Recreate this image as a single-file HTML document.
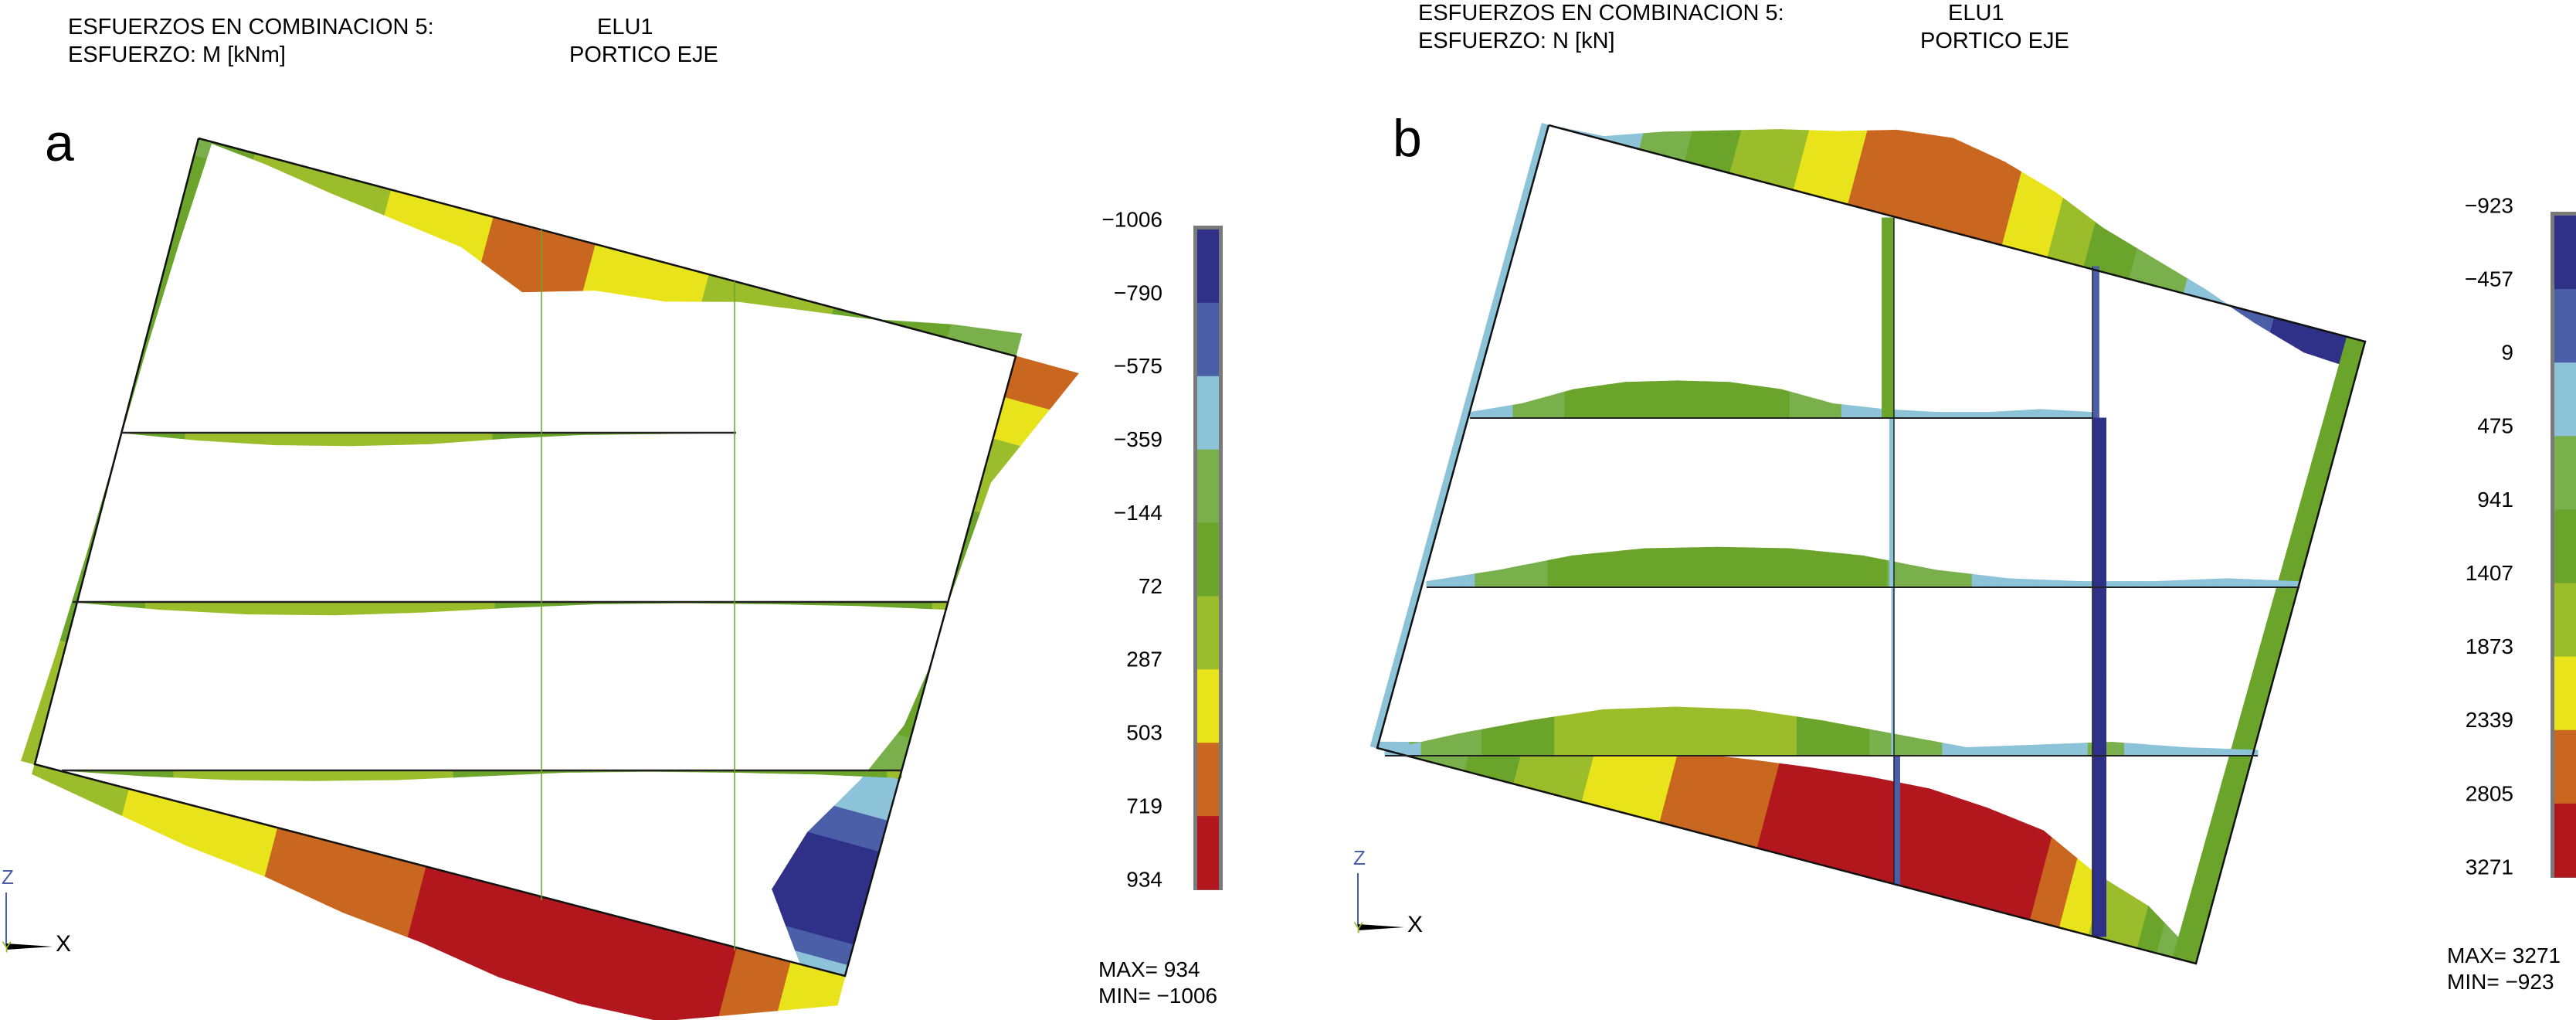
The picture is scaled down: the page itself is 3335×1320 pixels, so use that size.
<!DOCTYPE html>
<html><head><meta charset="utf-8"><style>
html,body{margin:0;padding:0;background:#fff;}
svg{display:block;font-family:"Liberation Sans",sans-serif;}
</style></head><body>
<svg id="fig" width="3335" height="1320" viewBox="0 0 3335 1320">
<g id="pa">
 <text x="88" y="44" font-size="29">ESFUERZOS EN COMBINACION 5:</text>
 <text x="773" y="44" font-size="29">ELU1</text>
 <text x="88" y="80" font-size="29">ESFUERZO: M [kNm]</text>
 <text x="737" y="80" font-size="29">PORTICO EJE</text>
 <text x="58" y="208" font-size="68">a</text>
 <text x="1422" y="1264" font-size="28">MAX= 934</text>
 <text x="1422" y="1298" font-size="28">MIN= −1006</text>
</g>
<g id="pb">
 <text x="1836" y="26" font-size="29">ESFUERZOS EN COMBINACION 5:</text>
 <text x="2522" y="26" font-size="29">ELU1</text>
 <text x="1836" y="62" font-size="29">ESFUERZO: N [kN]</text>
 <text x="2486" y="62" font-size="29">PORTICO EJE</text>
 <text x="1803" y="202" font-size="68">b</text>
 <text x="3168" y="1246" font-size="28">MAX= 3271</text>
 <text x="3168" y="1280" font-size="28">MIN= −923</text>
</g>
</svg>
<script>
const colors=['#2e3187','#4b5fa9','#8cc3d9','#79b04b','#6aa42b','#9cbd2b','#e9e31b','#c9661f','#b3171e'];
const ticksA=['−1006','−790','−575','−359','−144','72','287','503','719','934'];
const ticksB=['−923','−457','9','475','941','1407','1873','2339','2805','3271'];
const rangeA=[-1006,934];
const rangeB=[-923,3271];
// panel a moment values along members
const aTopBeam=[0,80,200,300,400,700,480,400,200,100,0,-150,-250];
const aBottomBeam=[100,250,400,500,650,740,880,934,900,600,300];
const aRightCol=[700,400,100,50,0,0,-100,-400,-800,-1006,-500];
const aLeftCol=[-150,-80,-30,0,30,80,150];
const aFloor1=[0,80,130,140,120,60,20,10,0];
const aFloor2=[0,80,130,140,110,60,20,10,20,40,80];
const aFloor3=[0,60,100,110,100,60,20,10,20,40,80];
// panel b axial values
const bTopBeam=[0,100,700,1200,1700,2100,2600,2800,2500,2000,1300,800,300,-300,-800,-900];
const bBottomBeam=[200,700,1200,1700,2100,2400,2700,2950,3150,3271,3150,2900,2000,1400,200];
const bLeftCol=[300,300,300,300];
const bRightCol=[1100,1200,1300,1400];
const bFloor1=[200,500,1000,1250,1300,1250,1000,500,300,200,200,300,200];
const bFloor2=[200,600,1100,1350,1400,1350,1100,600,300,200,200,300,200];
const bFloor3=[200,800,1300,1700,1800,1700,1300,800,300,400,500,300,200];
const bCol1=[1100,1100];const bCol1b=[400,400];const bCol1c=[300,300];const bCol1d=[-300,-300];
const bCol2=[-300,-300];const bCol2b=[-923,-923];

const NS='http://www.w3.org/2000/svg';
const svg=document.getElementById('fig');
function col(v,r){let i=Math.floor((v-r[0])/(r[1]-r[0])*9);return colors[Math.max(0,Math.min(8,i))];}
function member(g,p0,p1,vals,scale,sign,r,name){
 const dx=p1[0]-p0[0],dy=p1[1]-p0[1],L=Math.hypot(dx,dy);const nx=-dy/L*sign,ny=dx/L*sign;
 const grp=document.createElementNS(NS,'g');
 
 
 const n=vals.length-1,sub=6;
 for(let i=0;i<n;i++)for(let k=0;k<sub;k++){
  const ta=(i+k/sub)/n,tb=(i+(k+1)/sub)/n;
  const va=vals[i]+(vals[i+1]-vals[i])*k/sub,vb=vals[i]+(vals[i+1]-vals[i])*(k+1)/sub;
  const ax=p0[0]+dx*ta,ay=p0[1]+dy*ta,bx=p0[0]+dx*tb,by=p0[1]+dy*tb;
  const pts=[[ax,ay],[bx,by],[bx+nx*vb*scale,by+ny*vb*scale],[ax+nx*va*scale,ay+ny*va*scale]];
  const pg=document.createElementNS(NS,'polygon');
  pg.setAttribute('points',pts.map(p=>p.join(',')).join(' '));
  pg.setAttribute('fill',col((va+vb)/2,r));pg.setAttribute('stroke',col((va+vb)/2,r));pg.setAttribute('stroke-width','1');
  
  
  grp.appendChild(pg);
 }
 g.appendChild(grp);
}
function line(g,pts,w,c,name){const l=document.createElementNS(NS,'polyline');l.setAttribute('points',pts.map(p=>p.join(',')).join(' '));l.setAttribute('fill','none');l.setAttribute('stroke',c);l.setAttribute('stroke-width',w);
 
 
 g.appendChild(l);}
function txt(g,x,y,s,size,anchor,name,fill){const t=document.createElementNS(NS,'text');t.setAttribute('x',x);t.setAttribute('y',y);t.setAttribute('font-size',size);t.setAttribute('text-anchor',anchor);t.setAttribute('dominant-baseline','middle');if(fill)t.setAttribute('fill',fill);t.textContent=s;
 
 
 g.appendChild(t);}
function colorbar(g,x,y,w,h,ticks,lx,name){
 const grp=document.createElementNS(NS,'g');
 
 
 const bg=document.createElementNS(NS,'rect');bg.setAttribute('x',x);bg.setAttribute('y',y);bg.setAttribute('width',w);bg.setAttribute('height',h);bg.setAttribute('fill','#7a7a7a');
 
 
 grp.appendChild(bg);
 const st=(h-6)/colors.length;
 colors.forEach((c,i)=>{const r=document.createElementNS(NS,'rect');r.setAttribute('x',x+5);r.setAttribute('y',y+5+i*st);r.setAttribute('width',w-10);r.setAttribute('height',st+0.5);r.setAttribute('fill',c);
  
  
  grp.appendChild(r);});
 ticks.forEach((t,i)=>txt(grp,lx,y-6+i*st,t,28,'end','colorbar-tick-label'));
 g.appendChild(grp);
}
function triad(g,x,y){
 line(g,[[x,y-70],[x,y]],2,'#4a5fa8','z-axis');
 txt(g,x-6,y-88,'Z',26,'start','z-axis-label','#4a5fa8');
 const p=document.createElementNS(NS,'polygon');p.setAttribute('points',`${x},${y-4} ${x+60},${y} ${x},${y+4}`);p.setAttribute('fill','#000');
 
 
 g.appendChild(p);
 txt(g,x+64,y-2,'X',30,'start','x-axis-label');
 txt(g,x-6,y+2,'Y',20,'start','y-axis-label','#9cbd2b');
}
// Panel A
const ga=document.getElementById('pa');
const A={TL:[257,179],TR:[1315,461],BR:[1094,1263],BL:[45,989]};
member(ga,A.TL,A.TR,aTopBeam,0.12,1,rangeA,'a-top-beam-diagram');
member(ga,A.BL,A.BR,aBottomBeam,0.13,1,rangeA,'a-bottom-beam-diagram');
member(ga,A.TR,A.BR,aRightCol,0.12,-1,rangeA,'a-right-column-diagram');
member(ga,A.TL,A.BL,aLeftCol,0.12,1,rangeA,'a-left-column-diagram');
member(ga,[157,560],[953,560],aFloor1,0.12,1,rangeA,'a-floor1-diagram');
member(ga,[94,779],[1226,779],aFloor2,0.12,1,rangeA,'a-floor2-diagram');
member(ga,[80,997],[1167,997],aFloor3,0.12,1,rangeA,'a-floor3-diagram');
line(ga,[A.TL,A.TR,A.BR,A.BL,A.TL],2.5,'#111','a-frame-outline');
line(ga,[[157,560],[953,560]],2.5,'#222','a-floor1');
line(ga,[[94,779],[1226,779]],2.5,'#222','a-floor2');
line(ga,[[80,997],[1167,997]],2.5,'#222','a-floor3');
line(ga,[[701,297],[701,1165]],1.5,'#6aa42b','a-column-1');
line(ga,[[951,364],[951,1230]],1.5,'#6aa42b','a-column-2');
colorbar(ga,1545,292,38,860,ticksA,1505,'a-colorbar');
triad(ga,8,1225);
// Panel B
const gb=document.getElementById('pb');
const B={TL:[2005,162],TR:[3062,442],BR:[2843,1247],BL:[1783,968]};
member(gb,B.TL,B.TR,bTopBeam,0.042,-1,rangeB,'b-top-beam-diagram');
member(gb,B.BL,B.BR,bBottomBeam,0.04,-1,rangeB,'b-bottom-beam-diagram');
member(gb,B.TL,B.BL,bLeftCol,0.03,1,rangeB,'b-left-column-diagram');
member(gb,B.TR,B.BR,bRightCol,0.022,1,rangeB,'b-right-column-diagram');
member(gb,[1903,541],[2709,541],bFloor1,0.037,-1,rangeB,'b-floor1-diagram');
member(gb,[1847,760],[2977,760],bFloor2,0.037,-1,rangeB,'b-floor2-diagram');
member(gb,[1793,978],[2923,978],bFloor3,0.035,-1,rangeB,'b-floor3-diagram');
member(gb,[2452,282],[2452,541],bCol1,0.014,1,rangeB,'b-col1-upper');
member(gb,[2452,541],[2452,760],bCol1b,0.014,1,rangeB,'b-col1-mid');
member(gb,[2452,760],[2452,978],bCol1c,0.01,1,rangeB,'b-col1-lower');
member(gb,[2452,978],[2452,1145],bCol1d,0.025,1,rangeB,'b-col1-bottom');
member(gb,[2709,345],[2709,541],bCol2,0.028,1,rangeB,'b-col2-upper');
member(gb,[2709,541],[2709,1212],bCol2b,0.019,1,rangeB,'b-col2-lower');
line(gb,[B.TL,B.TR,B.BR,B.BL,B.TL],2.5,'#111','b-frame-outline');
line(gb,[[1903,541],[2709,541]],2,'#222','b-floor1');
line(gb,[[1847,760],[2977,760]],2,'#222','b-floor2');
line(gb,[[1793,978],[2923,978]],2,'#222','b-floor3');
line(gb,[[2452,282],[2452,1145]],1.5,'#222','b-column-1');
line(gb,[[2709,345],[2709,1212]],1.5,'#222','b-column-2');
colorbar(gb,3302,274,40,862,ticksB,3254,'b-colorbar');
triad(gb,1758,1200);
</script>
</body></html>
